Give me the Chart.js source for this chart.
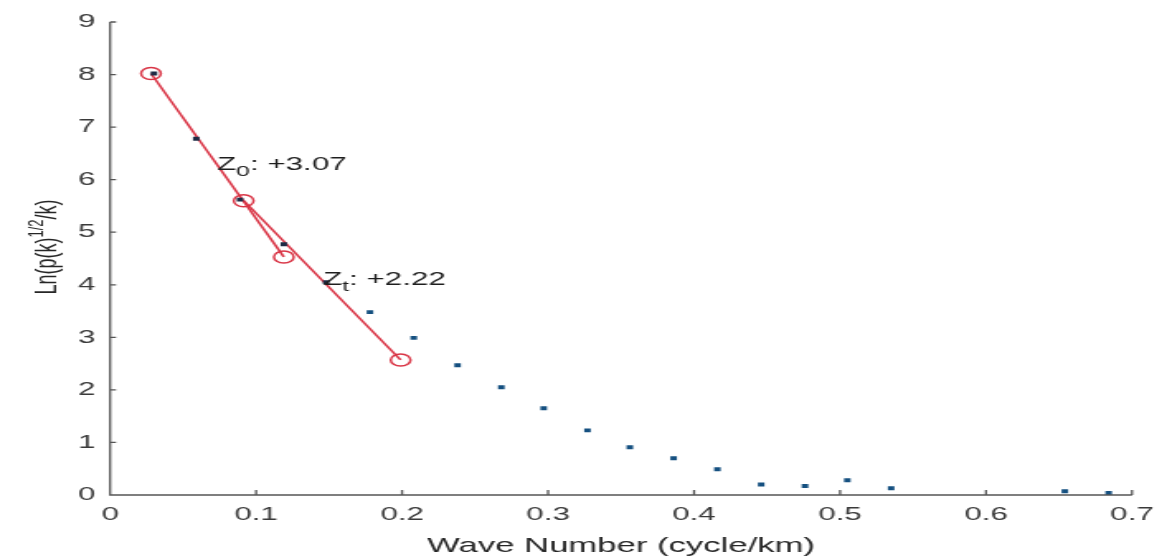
<!DOCTYPE html>
<html>
<head>
<meta charset="utf-8">
<script src="https://cdn.jsdelivr.net/npm/chart.js@4.4.0/dist/chart.umd.min.js"></script>
<style>
  html, body { margin: 0; padding: 0; background: #fff; overflow: hidden; }
  #spectrum { display: block; }
</style>
</head>
<body>
<!-- the reference is stretched sideways, so the canvas is drawn narrow and widened by CSS -->
<canvas id="spectrum" width="707" height="556" style="width:1167px;height:556px"></canvas>
<script>
const waveNumber = [0.030, 0.059, 0.089, 0.119, 0.148, 0.178, 0.208, 0.238, 0.268, 0.297,
                    0.327, 0.356, 0.386, 0.416, 0.446, 0.476, 0.505, 0.535, 0.654, 0.684];
const lnSpectrum = [8.02, 6.78, 5.62, 4.77, 4.05, 3.48, 2.99, 2.47, 2.05, 1.65,
                    1.23, 0.91, 0.70, 0.49, 0.20, 0.17, 0.28, 0.13, 0.07, 0.04];

const z0FitX = [0.028, 0.119];
const z0FitY = [8.02, 4.53];
const ztFitX = [0.0915, 0.199];
const ztFitY = [5.60, 2.57];

const xTicks = [0, 0.1, 0.2, 0.3, 0.4, 0.5, 0.6, 0.7];
const yTicks = [0, 1, 2, 3, 4, 5, 6, 7, 8, 9];

const depthNames = ['0', 't'];
const depthValues = ['+3.07', '+2.22'];

const FONT = '"Liberation Sans", Arial, Helvetica, sans-serif';
const RED = '#d93445';
const AXIS = '#555';

const toPoints = (xs, ys) => xs.map((x, i) => ({ x: x, y: ys[i] }));

const axesPlugin = {
  id: 'matlabAxes',
  afterDraw(chart) {
    const { ctx, chartArea, scales } = chart;
    const { left, right, top, bottom } = chartArea;
    const x = scales.x, y = scales.y;
    ctx.save();

    // axis lines (box off) with inward ticks
    ctx.strokeStyle = AXIS;
    ctx.lineWidth = 1.3;
    ctx.beginPath();
    ctx.moveTo(left, y.getPixelForValue(yTicks[yTicks.length - 1]));
    ctx.lineTo(left, bottom);
    ctx.lineTo(x.getPixelForValue(xTicks[xTicks.length - 1]), bottom);
    yTicks.forEach(v => {
      const py = y.getPixelForValue(v);
      ctx.moveTo(left, py);
      ctx.lineTo(left + 3.6, py);
    });
    xTicks.forEach(v => {
      const px = x.getPixelForValue(v);
      ctx.moveTo(px, bottom);
      ctx.lineTo(px, bottom - 5);
    });
    ctx.stroke();

    // x title
    ctx.fillStyle = '#262626';
    ctx.font = '21px ' + FONT;
    ctx.textAlign = 'center';
    ctx.textBaseline = 'alphabetic';
    ctx.fillText('Wave Number (cycle/km)', (left + right) / 2, 552);

    // y title with superscript
    ctx.save();
    ctx.translate(28, 247);
    ctx.rotate(-Math.PI / 2);
    ctx.textAlign = 'left';
    const mainFont = '18px ' + FONT, supFont = '13px ' + FONT;
    ctx.font = mainFont;
    const w1 = ctx.measureText('Ln(p(k)').width;
    const w3 = ctx.measureText('/k)').width;
    ctx.font = supFont;
    const w2 = ctx.measureText('1/2').width;
    let cx = -(w1 + w2 + w3) / 2;
    ctx.font = mainFont;
    ctx.fillText('Ln(p(k)', cx, 6);
    cx += w1;
    ctx.font = supFont;
    ctx.fillText('1/2', cx, -2);
    cx += w2;
    ctx.font = mainFont;
    ctx.fillText('/k)', cx, 6);
    ctx.restore();

    // depth annotations
    const anchors = [[0.0732, 6.18], [0.1458, 3.99]];
    ctx.fillStyle = '#1e1e1e';
    ctx.textAlign = 'left';
    depthNames.forEach((sub, i) => {
      let px = x.getPixelForValue(anchors[i][0]);
      const py = y.getPixelForValue(anchors[i][1]);
      ctx.font = '19px ' + FONT;
      ctx.fillText('Z', px, py);
      px += ctx.measureText('Z').width;
      ctx.font = '15px ' + FONT;
      ctx.fillText(sub, px, py + 6);
      px += ctx.measureText(sub).width;
      ctx.font = '19px ' + FONT;
      ctx.fillText(': ' + depthValues[i], px, py);
    });

    ctx.restore();
  }
};

const pointColors = waveNumber.map((v, i) => i < 5 ? '#1d2b45' : '#155080');

const canvas = document.getElementById('spectrum');
new Chart(canvas, {
  type: 'scatter',
  data: {
    datasets: [
      {
        label: 'spectrum',
        data: toPoints(waveNumber, lnSpectrum),
        pointStyle: 'rect',
        pointRadius: 2.8,
        pointBackgroundColor: pointColors,
        pointBorderWidth: 0,
        showLine: false
      },
      {
        label: 'Z0 fit',
        data: toPoints(z0FitX, z0FitY),
        showLine: true,
        borderColor: RED,
        borderWidth: 1.6,
        pointStyle: 'circle',
        pointRadius: 6,
        pointBorderColor: RED,
        pointBorderWidth: 1.5,
        pointBackgroundColor: 'rgba(0,0,0,0)'
      },
      {
        label: 'Zt fit',
        data: toPoints(ztFitX, ztFitY),
        showLine: true,
        borderColor: RED,
        borderWidth: 1.6,
        pointStyle: 'circle',
        pointRadius: 6,
        pointBorderColor: RED,
        pointBorderWidth: 1.5,
        pointBackgroundColor: 'rgba(0,0,0,0)'
      }
    ]
  },
  options: {
    responsive: false,
    animation: false,
    devicePixelRatio: 1,
    layout: { padding: { top: 22, right: 14, bottom: 0, left: 0 } },
    plugins: { legend: { display: false }, tooltip: { enabled: false } },
    scales: {
      x: {
        type: 'linear',
        min: 0,
        max: 0.7,
        afterFit: s => { s.height = 61; },
        afterBuildTicks: s => { s.ticks = xTicks.map(v => ({ value: v })); },
        ticks: {
          callback: v => String(Number(v.toFixed(1))),
          color: '#3a3a3a',
          font: { family: FONT, size: 19 },
          padding: 8,
          maxRotation: 0,
          autoSkip: false
        },
        grid: { display: false, drawTicks: false },
        border: { display: false }
      },
      y: {
        type: 'linear',
        min: 0,
        max: 9,
        afterFit: s => { s.width = 66.7; },
        afterBuildTicks: s => { s.ticks = yTicks.map(v => ({ value: v })); },
        ticks: {
          color: '#3a3a3a',
          font: { family: FONT, size: 19 },
          padding: 9,
          autoSkip: false
        },
        grid: { display: false, drawTicks: false },
        border: { display: false }
      }
    }
  },
  plugins: [axesPlugin]
});
canvas.style.width = '1167px';
canvas.style.height = '556px';
</script>
</body>
</html>
